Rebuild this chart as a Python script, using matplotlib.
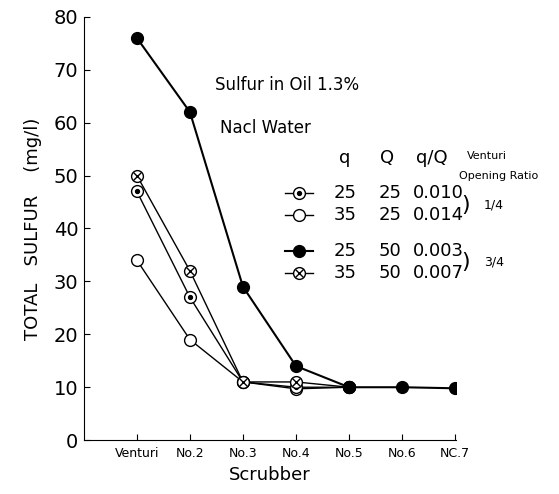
import matplotlib
matplotlib.use('Agg')
import matplotlib.pyplot as plt
from matplotlib.lines import Line2D

stations = ["Venturi", "No.2", "No.3", "No.4", "No.5", "No.6", "NC.7"]

# q=25, Q=50 (filled)
s_25_50 = [76, 62, 29, 14, 10, 10, 9.8]
# q=35, Q=50 (crossed circle)
s_35_50 = [50, 32, 11, 11, 10]
# q=25, Q=25 (dotted circle)
s_25_25 = [47, 27, 11, 10, 10]
# q=35, Q=25 (open circle)
s_35_25 = [34, 19, 11, 9.7, 10]

legend_rows = [("25", "25", "0.010"), ("35", "25", "0.014"),
               ("25", "50", "0.003"), ("35", "50", "0.007")]

plt.rcParams['font.family'] = ['DejaVu Sans']
fig = plt.figure(figsize=(5.59, 4.94), dpi=100)
ax = fig.add_axes([0.150, 0.109, 0.666, 0.857])

ms = 8.5
lw = 1.0

def draw_series(ax, xs, ys, kind, **kw):
    if kind == "filled":
        ax.plot(xs, ys, color="black", lw=1.5, marker="o", ms=ms,
                mfc="black", mec="black", **kw)
    elif kind == "open":
        ax.plot(xs, ys, color="black", lw=lw, marker="o", ms=ms,
                mfc="white", mec="black", mew=1.0, **kw)
    elif kind == "dot":
        ax.plot(xs, ys, color="black", lw=lw, marker="o", ms=ms,
                mfc="white", mec="black", mew=1.0, **kw)
        ax.plot(xs, ys, ls="none", marker="o", ms=2.8, color="black", **kw)
    elif kind == "cross":
        ax.plot(xs, ys, color="black", lw=lw, marker="o", ms=ms,
                mfc="white", mec="black", mew=1.0, **kw)
        ax.plot(xs, ys, ls="none", marker="x", ms=5.5, mew=1.0,
                color="black", **kw)

draw_series(ax, range(len(s_35_25)), s_35_25, "open")
draw_series(ax, range(len(s_25_25)), s_25_25, "dot")
draw_series(ax, range(len(s_35_50)), s_35_50, "cross")
draw_series(ax, range(len(s_25_50)), s_25_50, "filled")

ax.set_xlim(-1, 6.02)
ax.set_ylim(0, 80)
ax.set_yticks(range(0, 81, 10))
ax.set_xticks(range(len(stations)))
ax.set_xticklabels(stations, fontsize=9)
ax.tick_params(axis="y", direction="in", labelsize=14, length=4, pad=4)
ax.tick_params(axis="x", direction="in", length=4, pad=5)
ax.spines["top"].set_visible(False)
ax.spines["right"].set_visible(False)
ax.set_ylabel("TOTAL   SULFUR    (mg/l)", fontsize=13, labelpad=8)
ax.set_xlabel("Scrubber", fontsize=13, labelpad=4)

# annotations
ax.text(0.352, 0.839, "Sulfur in Oil 1.3%", transform=ax.transAxes,
        fontsize=12, va="center")
ax.text(0.366, 0.738, "Nacl Water", transform=ax.transAxes,
        fontsize=12, va="center")

# legend built by hand
def fx(px):
    return px / 559.0

def fy(py):
    return 1 - py / 494.0

fig.text(fx(345), fy(158), "q", fontsize=13, ha="center", va="center")
fig.text(fx(387), fy(158), "Q", fontsize=13, ha="center", va="center")
fig.text(fx(432), fy(158), "q/Q", fontsize=13, ha="center", va="center")
fig.text(fx(467), fy(156), "Venturi", fontsize=8, ha="left", va="center")
fig.text(fx(459), fy(176), "Opening Ratio", fontsize=8, ha="left", va="center")

row_y = [193, 215, 251, 273]
kinds = ["dot", "open", "filled", "cross"]
for (q, Q, r), yy, kind in zip(legend_rows, row_y, kinds):
    y = fy(yy)
    line = Line2D([fx(285), fx(313)], [y, y], color="black",
                  lw=1.5 if kind == "filled" else lw,
                  transform=fig.transFigure)
    fig.add_artist(line)
    mfc = "black" if kind == "filled" else "white"
    fig.add_artist(Line2D([fx(299)], [y], marker="o", ms=ms, mfc=mfc,
                          mec="black", mew=1.0, transform=fig.transFigure))
    if kind == "dot":
        fig.add_artist(Line2D([fx(299)], [y], marker="o", ms=2.8,
                              color="black", transform=fig.transFigure))
    if kind == "cross":
        fig.add_artist(Line2D([fx(299)], [y], marker="x", ms=5.5, mew=1.0,
                              color="black", transform=fig.transFigure))
    fig.text(fx(345), y, q, fontsize=13, ha="center", va="center")
    fig.text(fx(390), y, Q, fontsize=13, ha="center", va="center")
    fig.text(fx(438), y, r, fontsize=13, ha="center", va="center")

fig.text(fx(466), fy(205), ")", fontsize=16, ha="center", va="center")
fig.text(fx(466), fy(262), ")", fontsize=16, ha="center", va="center")
fig.text(fx(494), fy(205), "1/4", fontsize=9, ha="center", va="center")
fig.text(fx(494), fy(262), "3/4", fontsize=9, ha="center", va="center")

fig.savefig("out.png", dpi=100, facecolor="white")
